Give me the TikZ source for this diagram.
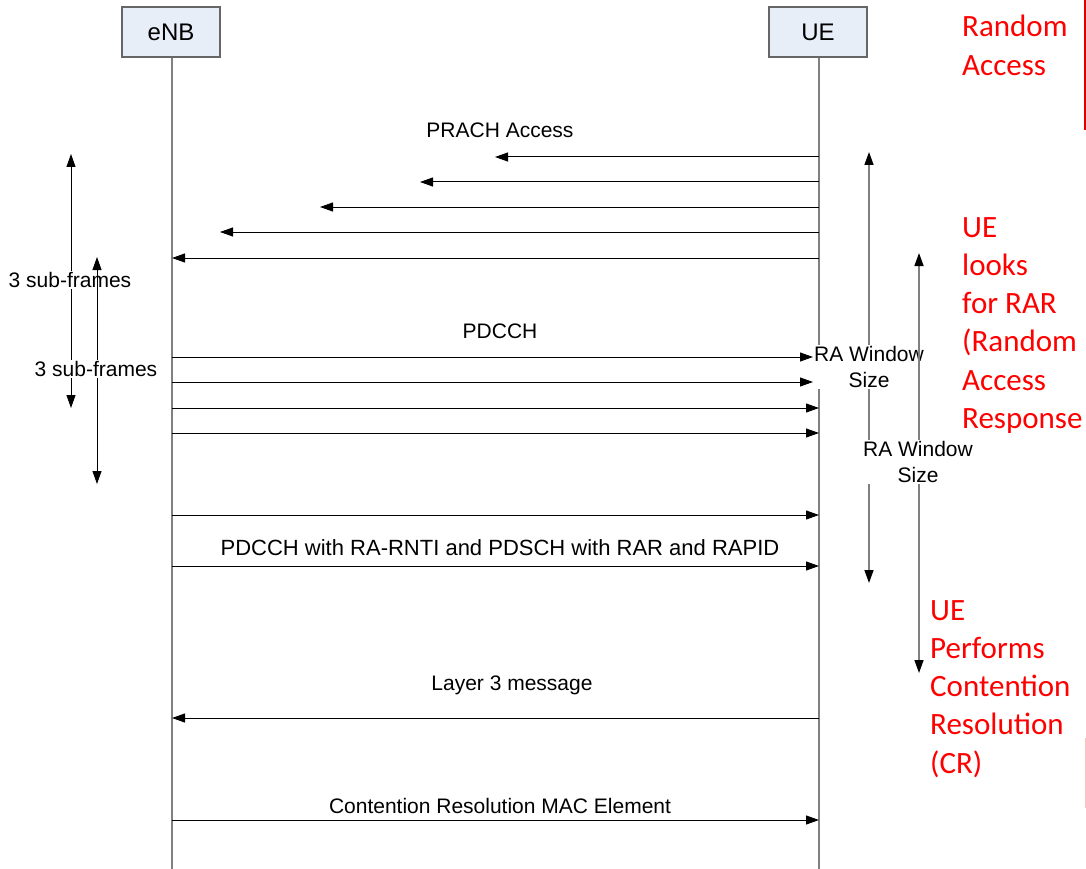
\documentclass[tikz,border=0pt]{standalone}
\usepackage{fontspec}
\setmainfont{Liberation Sans}
\newfontfamily\redfont{Carlito}
\usetikzlibrary{arrows.meta}
\definecolor{boxfill}{HTML}{E8EEF8}
\definecolor{lifegray}{HTML}{808080}
\definecolor{redtxt}{HTML}{FF0000}
\tikzset{
  entity/.style={draw=lifegray!80!black, fill=boxfill, line width=1.2pt, minimum width=98pt, minimum height=50pt, inner sep=0pt, font=\fontsize{24}{27}\selectfont},
  life/.style={draw=lifegray, line width=1.5pt},
  msg/.style={draw=black, line width=1pt, -{Triangle[length=13pt,width=9pt]}},
  span/.style={draw=black, line width=1pt, {Triangle[length=13pt,width=9pt]}-{Triangle[length=13pt,width=9pt]}},
  gspan/.style={draw=lifegray, line width=1.5pt, {Triangle[length=13pt,width=9pt,fill=black,color=black]}-{Triangle[length=13pt,width=9pt,fill=black,color=black]}},
  lbl/.style={font=\fontsize{21}{24}\selectfont, inner sep=1pt},
  wlbl/.style={font=\fontsize{21}{26}\selectfont, fill=white, inner sep=1pt, align=center},
  redlbl/.style={font=\redfont\fontsize{31}{38.3}\selectfont, text=redtxt, align=left, anchor=north west, inner sep=0pt},
}
\begin{document}
\begin{tikzpicture}[x=1pt,y=-1pt]
\useasboundingbox (0,0) rectangle (1086,869);
% entities
\node[entity] (enb) at (171,32) {eNB};
\node[entity] (ue) at (818,32) {UE};
\coordinate (enbEnd) at (172,869);
\coordinate (ueEnd) at (819,869);
\draw[life] (enb.south) ++(1,0) -- (enbEnd);
\draw[life] (ue.south) ++(1,0) -- (ueEnd);
% PRACH
\coordinate (p1s) at (819,157); \coordinate (p1e) at (495,157);
\coordinate (p2s) at (819,182); \coordinate (p2e) at (420,182);
\coordinate (p3s) at (819,207); \coordinate (p3e) at (320,207);
\coordinate (p4s) at (819,232); \coordinate (p4e) at (220,232);
\coordinate (p5s) at (819,258); \coordinate (p5e) at (172,258);
\draw[msg] (p1s) -- (p1e);
\draw[msg] (p2s) -- (p2e);
\draw[msg] (p3s) -- (p3e);
\draw[msg] (p4s) -- (p4e);
\draw[msg] (p5s) -- (p5e);
\node[lbl] (prach) at (500,130) {PRACH Access};
% PDCCH
\coordinate (d1s) at (172,357); \coordinate (d1e) at (813,357);
\coordinate (d2s) at (172,382); \coordinate (d2e) at (813,382);
\coordinate (d3s) at (172,408); \coordinate (d3e) at (819,408);
\coordinate (d4s) at (172,433); \coordinate (d4e) at (819,433);
\coordinate (d5s) at (172,515); \coordinate (d5e) at (819,515);
\coordinate (d6s) at (172,566); \coordinate (d6e) at (819,566);
\draw[msg] (d1s) -- (d1e);
\draw[msg] (d2s) -- (d2e);
\draw[msg] (d3s) -- (d3e);
\draw[msg] (d4s) -- (d4e);
\draw[msg] (d5s) -- (d5e);
\draw[msg] (d6s) -- (d6e);
\node[lbl] (pdcch) at (500,331) {PDCCH};
\node[lbl, font=\fontsize{22}{25}\selectfont] (pdsch) at (500,548) {PDCCH with RA-RNTI and PDSCH with RAR and RAPID};
% Layer 3
\coordinate (l3s) at (819,718); \coordinate (l3e) at (172,718);
\draw[msg] (l3s) -- (l3e);
\node[lbl] (l3) at (512,685) {Layer 3 message};
% CR MAC
\coordinate (crs) at (172,820); \coordinate (cre) at (819,820);
\draw[msg] (crs) -- (cre);
\node[lbl] (cr) at (500,806) {Contention Resolution MAC Element};
% left spans
\coordinate (s1t) at (71,154); \coordinate (s1b) at (71,408);
\draw[span] (s1t) -- (s1b);
\node[wlbl] (sf1) at (70,280) {3 sub-frames};
\coordinate (s2t) at (97,257); \coordinate (s2b) at (97,484);
\draw[span] (s2t) -- (s2b);
\node[wlbl] (sf2) at (96,369) {3 sub-frames};
% RA window spans
\coordinate (w1t) at (869,152); \coordinate (w1b) at (869,583);
\draw[gspan] (w1t) -- (w1b);
\node[wlbl] (ra1) at (869,367) {RA Window\\Size};
\coordinate (w2t) at (919,253); \coordinate (w2b) at (919,673);
\draw[gspan] (w2t) -- (w2b);
\node[wlbl] (ra2) at (918,462) {RA Window\\Size};
% red annotations
\node[redlbl] (rt1) at (962,15) {Random\\Access};
\node[redlbl] (rt2) at (962,217) {UE\\looks\\for RAR\\(Random\\Access\\Response};
\node[redlbl] (rt3) at (930,600) {UE\\Performs\\Contention\\Resolution\\(CR)};
% clipped box edges
\draw[redtxt!85!black, line width=1.2pt] (1085,0) -- (1085,130);
\draw[redtxt!25, line width=1pt] (1085,738) -- (1085,808);
\end{tikzpicture}
\end{document}
